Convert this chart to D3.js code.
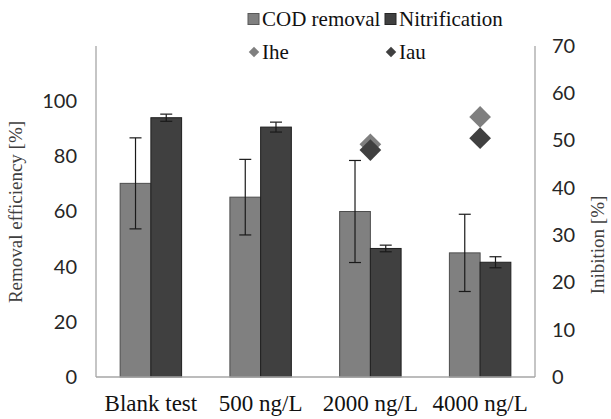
<!DOCTYPE html>
<html>
<head>
<meta charset="utf-8">
<script src="https://cdn.jsdelivr.net/npm/d3@7"></script>
<style>
  body { margin: 0; background: #fff; }
  svg { display: block; }
</style>
</head>
<body>
<svg id="chart"></svg>
<script>
// data
const categories = ['Blank test', '500 ng/L', '2000 ng/L', '4000 ng/L']
const codRemoval = [70.2, 65.2, 60, 45]
const codError = [16.5, 13.7, 18.5, 14]
const nitrification = [94, 90.6, 46.6, 41.6]
const nitError = [1.3, 1.8, 1.2, 2]
// inhibition, right axis (null = no point)
const ihe = [null, null, 49.2, 55]
const iau = [null, null, 48, 50.5]
const leftTicks = [0, 20, 40, 60, 80, 100]
const rightTicks = [0, 10, 20, 30, 40, 50, 60, 70]

const width = 611
const height = 419
const plot = { left: 96, right: 535, top: 46, bottom: 377 }

const svg = d3.select('#chart').attr('width', width).attr('height', height)

const x = d3
  .scaleBand()
  .domain(categories)
  .range([plot.left, plot.right])
  .paddingInner(0.44)
  .paddingOuter(0.22)

const x1 = d3
  .scaleBand()
  .domain(['cod', 'nit'])
  .range([0, x.bandwidth()])

const yLeft = d3.scaleLinear().domain([0, 120]).range([plot.bottom, plot.top])
const yRight = d3.scaleLinear().domain([0, 70]).range([plot.bottom, plot.top])

const sans = 'Lato, Liberation Sans, sans-serif'
const serif = 'Liberation Serif, DejaVu Serif, serif'

// frame lines (left, right)
const frame = svg.append('g').attr('stroke', '#a6a6a6').attr('stroke-width', 1.3)
frame.append('line')
  .attr('x1', plot.left).attr('x2', plot.left)
  .attr('y1', plot.top).attr('y2', plot.bottom)
frame.append('line')
  .attr('x1', plot.right).attr('x2', plot.right)
  .attr('y1', plot.top).attr('y2', plot.bottom)

// left axis
const leftAxis = svg
  .append('g')
  .attr('transform', `translate(${plot.left - 19}, 0)`)
  .call(d3.axisLeft(yLeft).tickValues(leftTicks).tickSize(0).tickPadding(0))
leftAxis.select('.domain').remove()
leftAxis.selectAll('text')
  .attr('font-family', sans).attr('font-size', 20).attr('fill', '#262626')

// right axis
const rightAxis = svg
  .append('g')
  .attr('transform', `translate(${plot.right + 17}, 0)`)
  .call(d3.axisRight(yRight).tickValues(rightTicks).tickSize(0).tickPadding(0))
rightAxis.select('.domain').remove()
rightAxis.selectAll('text')
  .attr('font-family', sans).attr('font-size', 20).attr('fill', '#262626')

// x axis labels
const xAxis = svg
  .append('g')
  .attr('transform', `translate(0, ${plot.bottom + 18})`)
  .call(d3.axisBottom(x).tickSize(0).tickPadding(0))
xAxis.select('.domain').remove()
xAxis.selectAll('text')
  .attr('font-family', serif).attr('font-size', 23).attr('fill', '#111')

// bars
const rows = categories.map((c, i) => ({
  cat: c,
  cod: codRemoval[i], codErr: codError[i],
  nit: nitrification[i], nitErr: nitError[i],
}))

const groups = svg
  .append('g')
  .selectAll('g')
  .data(rows)
  .join('g')
  .attr('transform', (d) => `translate(${x(d.cat)}, 0)`)

groups.append('rect')
  .attr('x', x1('cod'))
  .attr('width', x1.bandwidth())
  .attr('y', (d) => yLeft(d.cod))
  .attr('height', (d) => yLeft(0) - yLeft(d.cod))
  .attr('fill', '#808080')
  .attr('stroke', '#4d4d4d')
  .attr('stroke-width', 1)

groups.append('rect')
  .attr('x', x1('nit'))
  .attr('width', x1.bandwidth())
  .attr('y', (d) => yLeft(d.nit))
  .attr('height', (d) => yLeft(0) - yLeft(d.nit))
  .attr('fill', '#404040')
  .attr('stroke', '#1f1f1f')
  .attr('stroke-width', 1)

// bottom axis line on top of bars
svg.append('line')
  .attr('x1', plot.left).attr('x2', plot.right)
  .attr('y1', plot.bottom).attr('y2', plot.bottom)
  .attr('stroke', '#a6a6a6').attr('stroke-width', 1.3)

// error bars
const errBar = (key, errKey, cap) => {
  const cx = x1(key) + x1.bandwidth() / 2
  const g = groups.append('g').attr('stroke', '#1a1a1a').attr('stroke-width', 1.2)
  g.append('line')
    .attr('x1', cx).attr('x2', cx)
    .attr('y1', (d) => yLeft(d[key] + d[errKey]))
    .attr('y2', (d) => yLeft(d[key] - d[errKey]))
  g.append('line')
    .attr('x1', cx - cap).attr('x2', cx + cap)
    .attr('y1', (d) => yLeft(d[key] + d[errKey]))
    .attr('y2', (d) => yLeft(d[key] + d[errKey]))
  g.append('line')
    .attr('x1', cx - cap).attr('x2', cx + cap)
    .attr('y1', (d) => yLeft(d[key] - d[errKey]))
    .attr('y2', (d) => yLeft(d[key] - d[errKey]))
}
errBar('cod', 'codErr', 6)
errBar('nit', 'nitErr', 6)

// inhibition diamonds
const diamond = d3.symbol().type(d3.symbolDiamond2).size(300)
const points = [
  { vals: ihe, color: '#7f7f7f' },
  { vals: iau, color: '#404040' },
]
points.forEach((s) => {
  svg.append('g')
    .selectAll('path')
    .data(categories.map((c, i) => ({ cat: c, v: s.vals[i] })).filter((d) => d.v != null))
    .join('path')
    .attr('d', diamond)
    .attr('transform', (d) => `translate(${x(d.cat) + x.bandwidth() / 2}, ${yRight(d.v)})`)
    .attr('fill', s.color)
})

// axis titles
svg.append('text')
  .attr('transform', `translate(22, 212) rotate(-90)`)
  .attr('text-anchor', 'middle')
  .attr('font-family', serif).attr('font-size', 19).attr('fill', '#404040')
  .text('Removal efficiency [%]')

svg.append('text')
  .attr('transform', `translate(604, 245) rotate(-90)`)
  .attr('text-anchor', 'middle')
  .attr('font-family', serif).attr('font-size', 19).attr('fill', '#404040')
  .text('Inibition [%]')

// legend
const legend = [
  { label: 'COD removal', shape: 'square', fill: '#808080', stroke: '#595959', x: 248, y: 19 },
  { label: 'Nitrification', shape: 'square', fill: '#404040', stroke: '#262626', x: 385, y: 19 },
  { label: 'Ihe', shape: 'diamond', fill: '#7f7f7f', x: 248, y: 52 },
  { label: 'Iau', shape: 'diamond', fill: '#404040', x: 385, y: 52 },
]
const lg = svg.append('g').selectAll('g').data(legend).join('g')
  .attr('transform', (d) => `translate(${d.x}, ${d.y})`)
lg.filter((d) => d.shape === 'square')
  .append('rect')
  .attr('x', 0).attr('y', -5.5).attr('width', 11).attr('height', 11)
  .attr('fill', (d) => d.fill).attr('stroke', (d) => d.stroke)
lg.filter((d) => d.shape === 'diamond')
  .append('path')
  .attr('d', d3.symbol().type(d3.symbolDiamond2).size(70))
  .attr('transform', 'translate(6, 0)')
  .attr('fill', (d) => d.fill)
lg.append('text')
  .attr('x', 14).attr('y', 0).attr('dy', '0.35em')
  .attr('font-family', serif).attr('font-size', 21).attr('fill', '#111')
  .text((d) => d.label)
</script>
</body>
</html>
